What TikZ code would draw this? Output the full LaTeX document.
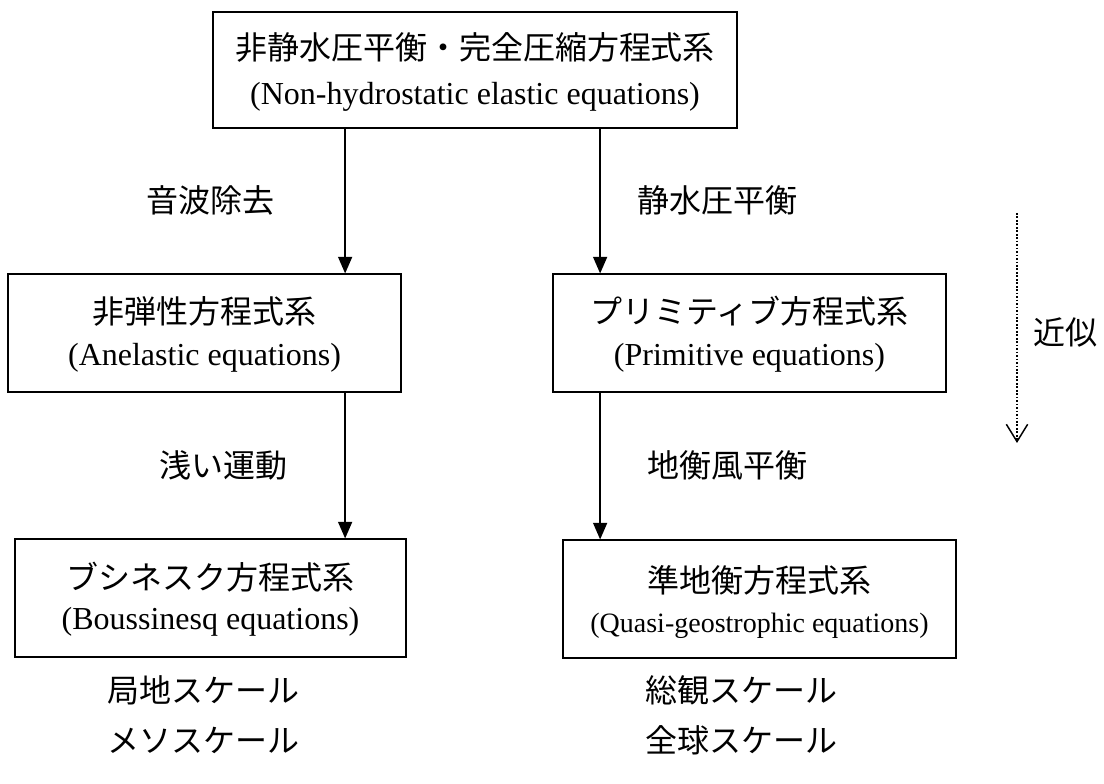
\documentclass[tikz,border=0pt]{standalone}
\usepackage{fontspec}
\setmainfont{Liberation Serif}
\newfontfamily\jp{Noto Sans CJK JP}
\usetikzlibrary{arrows.meta}
\tikzset{
  box/.style={draw, line width=1.3pt, minimum height=88pt, inner sep=0pt},
  jtxt/.style={inner sep=0pt, font=\jp\fontsize{24pt}{28pt}\selectfont},
  etxt/.style={inner sep=0pt, font=\fontsize{24pt}{28pt}\selectfont},
  esmall/.style={inner sep=0pt, font=\fontsize{21pt}{25pt}\selectfont},
  arr/.style={line width=1.3pt, -{Triangle[length=12.5pt,width=10.5pt]}},
  approx/.style={line width=1.4pt, dash pattern=on 1.3pt off 1.3pt, -{Straight Barb[length=13pt,width=16pt,line width=1.1pt]}}
}
\begin{document}
\begin{tikzpicture}[x=0.75pt,y=-0.75pt]
\useasboundingbox (0,0) rectangle (1104,784);
% boxes
\node[box, minimum width=393pt, minimum height=87pt] (top) at (475,70) {};
\node[box, minimum width=294.75pt] (ml) at (204.5,333) {};
\node[box, minimum width=294.75pt] (mr) at (749.5,333) {};
\node[box, minimum width=293.25pt] (bl) at (210.5,598) {};
\node[box, minimum width=294.75pt] (br) at (759.5,599) {};
% box texts
\node[jtxt] (topj) at (475,47) {非静水圧平衡・完全圧縮方程式系};
\node[etxt] (tope) at (475,97) {(Non-hydrostatic elastic equations)};
\node[jtxt] (mlj) at (204.5,311) {非弾性方程式系};
\node[etxt] (mle) at (204.5,358) {(Anelastic equations)};
\node[jtxt] (mrj) at (749.5,311) {プリミティブ方程式系};
\node[etxt] (mre) at (749.5,358) {(Primitive equations)};
\node[jtxt] (blj) at (210.5,577) {ブシネスク方程式系};
\node[etxt] (ble) at (210.5,622) {(Boussinesq equations)};
\node[jtxt] (brj) at (759.5,580) {準地衡方程式系};
\node[esmall] (bre) at (759.5,626) {(Quasi-geostrophic equations)};
% connectors
\coordinate (a1) at ([xshift=99.75pt]top.south west);
\coordinate (a2) at ([xshift=291pt]top.south west);
\coordinate (a3) at ([xshift=253.5pt]ml.south west);
\coordinate (a4) at ([xshift=36pt]mr.south west);
\draw[arr] (a1) -- (a1 |- ml.north);
\draw[arr] (a2) -- (a2 |- mr.north);
\draw[arr] (a3) -- (a3 |- bl.north);
\draw[arr] (a4) -- (a4 |- br.north);
% labels
\node[jtxt] (l1) at (210,200) {音波除去};
\node[jtxt] (l2) at (717,200) {静水圧平衡};
\node[jtxt] (l3) at (223,465) {浅い運動};
\node[jtxt] (l4) at (727,465) {地衡風平衡};
% approx arrow
\coordinate (d1) at (1017,213);
\coordinate (d2) at (1017,443);
\draw[approx] (d1) -- (d2);
\node[jtxt] (l5) at (1065,333) {近似};
% scale labels
\node[jtxt, anchor=west] (s1) at (107,690) {局地スケール};
\node[jtxt, anchor=west] (s2) at (107,740) {メソスケール};
\node[jtxt, anchor=west] (s3) at (645,690) {総観スケール};
\node[jtxt, anchor=west] (s4) at (645,740) {全球スケール};
\end{tikzpicture}
\end{document}
